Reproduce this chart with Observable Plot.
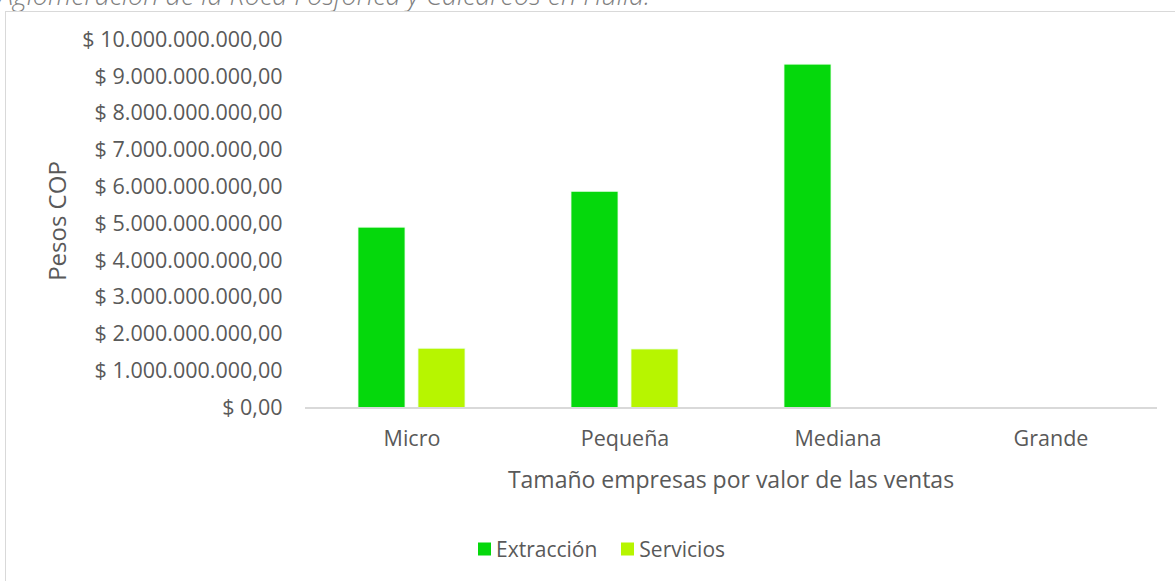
<!DOCTYPE html>
<html>
<head>
<meta charset="utf-8">
<script src="https://cdn.jsdelivr.net/npm/d3@7"></script>
<script src="https://cdn.jsdelivr.net/npm/@observablehq/plot@0.6"></script>
<style>
  html, body { margin: 0; padding: 0; background: #fff; }
  #wrap { position: relative; width: 1175px; height: 581px; overflow: hidden; font-family: "Open Sans", sans-serif; color: #595959; }
  #title { position: absolute; left: -2px; top: -19px; font-size: 27px; line-height: 1; font-style: italic; color: #7f7f7f; white-space: nowrap; font-weight: 300; }
  #frame { position: absolute; left: 5px; top: 11px; width: 1200px; height: 600px; border: 1px solid #d9d9d9; box-sizing: border-box; }
  #chart { position: absolute; left: 0; top: 0; }
  #ylabel { position: absolute; left: 57px; top: 221px; transform: translate(-50%, -50%) rotate(-90deg); font-size: 24px; line-height: 1; white-space: nowrap; }
  #xlabel { position: absolute; left: 731px; top: 479px; transform: translate(-50%, -50%); font-size: 23px; line-height: 1; white-space: nowrap; }
  #legend { position: absolute; left: 478px; top: 549px; transform: translateY(-50%); display: flex; align-items: center; font-size: 21px; line-height: 1; white-space: nowrap; }
  .sw { display: inline-block; width: 13px; height: 13px; margin-right: 5px; }
  .item { display: flex; align-items: center; margin-right: 24px; }
</style>
</head>
<body>
<div id="wrap">
  <div id="title">Aglomeración de la Roca Fosfórica y Calcáreos en Huila.</div>
  <div id="frame"></div>
  <div id="chart"></div>
  <div id="ylabel">Pesos COP</div>
  <div id="xlabel">Tamaño empresas por valor de las ventas</div>
  <div id="legend"></div>
</div>
<script>
const categories = ["Micro", "Pequeña", "Mediana", "Grande"];
const series = ["Extracción", "Servicios"];
const extraccion = [4.90e9, 5.875e9, 9.33e9, 0];
const servicios = [1.61e9, 1.59e9, 0, 0];
const yTicks = [0, 1e9, 2e9, 3e9, 4e9, 5e9, 6e9, 7e9, 8e9, 9e9, 10e9];
const colors = ["#05D80C", "#B7F500"];

const data = [];
categories.forEach((c, i) => {
  data.push({category: c, series: series[0], value: extraccion[i]});
  data.push({category: c, series: series[1], value: servicios[i]});
});

const locale = d3.formatLocale({decimal: ",", thousands: ".", grouping: [3], currency: ["$ ", ""]});
const fmt = locale.format("$,.2f");

const chart = Plot.plot({
  width: 1175,
  height: 500,
  marginLeft: 303,
  marginRight: 17,
  marginTop: 39.5,
  marginBottom: 92.5,
  style: {fontFamily: "Open Sans, sans-serif", fontSize: "21.5px", color: "#595959", background: "transparent", overflow: "visible"},
  fx: {domain: categories, padding: 0, axis: "bottom", label: null, tickSize: 0, tickPadding: 23},
  x: {domain: series, axis: null, paddingInner: 0.213, paddingOuter: 0.858},
  y: {domain: [0, 10e9], ticks: yTicks, tickFormat: fmt, tickSize: 0, tickPadding: 23, label: null},
  color: {domain: series, range: colors},
  marks: [
    Plot.barY(data, {fx: "category", x: "series", y: "value", fill: "series", stroke: "#e8ffe8", strokeWidth: 0.8}),
    Plot.ruleY([0], {stroke: "#d9d9d9", strokeWidth: 2})
  ]
});
document.getElementById("chart").appendChild(chart);

const legend = document.getElementById("legend");
series.forEach((s, i) => {
  const item = document.createElement("div");
  item.className = "item";
  const sw = document.createElement("span");
  sw.className = "sw";
  sw.style.background = colors[i];
  item.appendChild(sw);
  item.appendChild(document.createTextNode(s));
  legend.appendChild(item);
});
</script>
</body>
</html>
